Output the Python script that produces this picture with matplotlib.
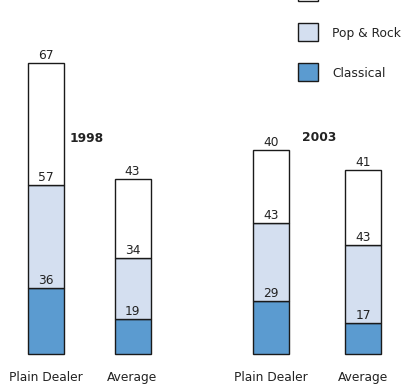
import matplotlib.pyplot as plt
from matplotlib.patches import Rectangle

### data #####
groups = ["1998", "2003"]
bar_names = ["Plain Dealer", "Average", "Plain Dealer", "Average"]
classical = [36, 19, 29, 17]
pop_rock = [57, 34, 43, 43]
other = [67, 43, 40, 41]
#######

c_classical = "#5b9bd0"
c_pop = "#d4dff0"
c_other = "#ffffff"
edge = "#1a1a1a"
txt = "#222222"
fs = 8.8

W, H = 404, 386
base = 32      # px from figure bottom to bar baseline
ppu = 1.82     # px per unit


def py(ypix):
    # pixel row (from top) -> data y
    return (H - ypix - base) / ppu


fig = plt.figure(figsize=(W / 100, H / 100), dpi=100)
ax = fig.add_axes([0, 0, 1, 1])
ax.set_xlim(0, W)
ax.set_ylim(-base / ppu, (H - base) / ppu)
ax.axis("off")

xpos = [46, 132.5, 271, 363]
bw = 36

ax.bar(xpos, classical, bw, color=c_classical, edgecolor=edge, linewidth=1.0)
bottom3 = [a + b for a, b in zip(classical, pop_rock)]
ax.bar(xpos, pop_rock, bw, bottom=classical, color=c_pop, edgecolor=edge, linewidth=1.0)
ax.bar(xpos, other, bw, bottom=bottom3, color=c_other, edgecolor=edge, linewidth=1.0)

# value labels just above the top of each segment
for i, x in enumerate(xpos):
    tops = [classical[i], bottom3[i], bottom3[i] + other[i]]
    vals = [classical[i], pop_rock[i], other[i]]
    for t, v in zip(tops, vals):
        ax.text(x, t + 4 / ppu, str(v), ha="center", va="baseline", fontsize=fs, color=txt)
    ax.text(x, py(381), bar_names[i], ha="center", va="baseline", fontsize=fs, color=txt)

# year labels
ax.text(70, py(142), groups[0], ha="left", va="baseline",
        fontsize=fs, fontweight="bold", color=txt)
ax.text(302, py(141), groups[1], ha="left", va="baseline",
        fontsize=fs, fontweight="bold", color=txt)

# legend (top entry cut off by the figure edge)
leg = [(c_other, ""), (c_pop, "Pop & Rock"), (c_classical, "Classical")]
for k, (c, lab) in enumerate(leg):
    top = -17 + 40 * k
    fig.patches.append(Rectangle((298 / W, (H - top - 18) / H), 20 / W, 18 / H,
                                 transform=fig.transFigure, facecolor=c,
                                 edgecolor=edge, linewidth=1.0))
    fig.text(332 / W, (H - top - 14) / H, lab, ha="left", va="baseline",
             fontsize=fs, color=txt)

fig.savefig("out.png", dpi=100)
